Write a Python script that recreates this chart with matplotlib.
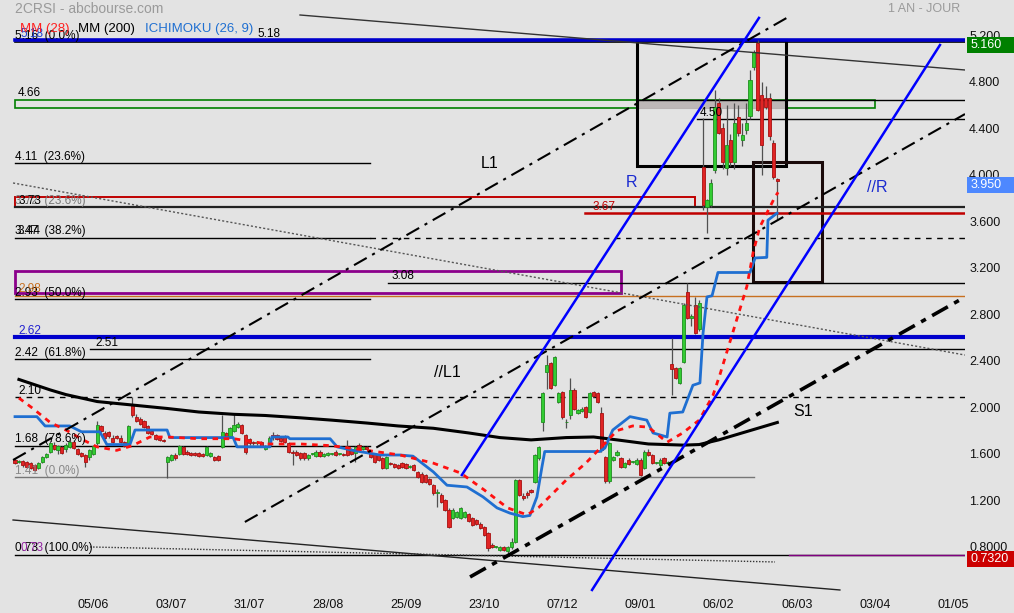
import matplotlib
matplotlib.use("Agg")
import matplotlib.pyplot as plt
from matplotlib.patches import Rectangle
from matplotlib.transforms import blended_transform_factory

plt.rcParams['font.family'] = ['Liberation Sans', 'DejaVu Sans']

# daily candles, x = trading day index (0 = first bar)
opens = [1.55, 1.53, 1.54, 1.53, 1.52, 1.50, 1.48, 1.53, 1.57, 1.62,
         1.68, 1.63, 1.66, 1.64, 1.66, 1.70, 1.64, 1.61, 1.59, 1.57,
         1.60, 1.69, 1.84, 1.78, 1.79, 1.74, 1.75, 1.74, 1.70, 1.69,
         2.02, 1.92, 1.90, 1.88, 1.84, 1.80, 1.76, 1.74, 1.72, 1.53,
         1.55, 1.59, 1.60, 1.66, 1.62, 1.61, 1.61, 1.61, 1.60, 1.59,
         1.58, 1.57, 1.58, 1.66, 1.78, 1.75, 1.80, 1.83, 1.85, 1.76,
         1.73, 1.70, 1.69, 1.70, 1.64, 1.68, 1.76, 1.76, 1.74, 1.75,
         1.69, 1.62, 1.62, 1.61, 1.61, 1.56, 1.60, 1.58, 1.62, 1.58,
         1.59, 1.60, 1.62, 1.60, 1.60, 1.65, 1.64, 1.61, 1.68, 1.64,
         1.66, 1.61, 1.60, 1.59, 1.56, 1.48, 1.52, 1.51, 1.50, 1.52,
         1.51, 1.49, 1.50, 1.44, 1.43, 1.42, 1.38, 1.33, 1.26, 1.25,
         1.20, 1.12, 1.05, 1.06, 1.05, 1.06, 1.08, 1.05, 1.03, 1.00,
         0.97, 0.92, 0.82, 0.80, 0.77, 0.80, 0.76, 0.80, 0.84, 1.375,
         1.24, 1.26, 1.29, 1.36, 1.56, 1.87, 2.30, 2.38, 2.19, 2.05,
         2.13, 1.87, 1.93, 2.15, 1.95, 1.97, 2.00, 1.96, 2.13, 2.12,
         1.95, 1.57, 1.37, 1.55, 1.59, 1.56, 1.49, 1.55, 1.53, 1.51,
         1.55, 1.48, 1.62, 1.59, 1.52, 1.50, 1.56, 1.52, 2.37, 2.34,
         2.21, 2.39, 2.99, 2.77, 2.88, 2.67, 4.07, 3.72, 3.74, 4.04,
         4.62, 4.40, 4.06, 4.30, 4.11, 4.50, 4.30, 4.39, 4.51, 4.93,
         5.13, 4.69, 4.66, 4.66, 4.27, 3.96]
highs = [1.56, 1.55, 1.55, 1.54, 1.53, 1.51, 1.53, 1.58, 1.61, 1.71,
         1.70, 1.68, 1.67, 1.69, 1.72, 1.72, 1.65, 1.62, 1.60, 1.64,
         1.68, 1.88, 1.85, 1.80, 1.80, 1.76, 1.76, 1.76, 1.71, 1.85,
         2.09, 1.94, 1.92, 1.89, 1.85, 1.81, 1.77, 1.75, 1.73, 1.58,
         1.60, 1.61, 1.68, 1.67, 1.63, 1.62, 1.62, 1.62, 1.61, 1.67,
         1.62, 1.58, 1.59, 1.93, 1.79, 1.83, 1.94, 1.87, 1.86, 1.77,
         1.74, 1.71, 1.71, 1.71, 1.68, 1.75, 1.79, 1.77, 1.75, 1.76,
         1.70, 1.63, 1.63, 1.62, 1.62, 1.60, 1.61, 1.63, 1.63, 1.61,
         1.62, 1.61, 1.63, 1.61, 1.61, 1.72, 1.65, 1.67, 1.69, 1.67,
         1.67, 1.62, 1.61, 1.60, 1.57, 1.58, 1.53, 1.52, 1.51, 1.53,
         1.52, 1.50, 1.51, 1.45, 1.44, 1.43, 1.39, 1.34, 1.30, 1.26,
         1.21, 1.13, 1.13, 1.11, 1.14, 1.11, 1.09, 1.06, 1.04, 1.01,
         0.98, 0.93, 0.83, 0.81, 0.81, 0.81, 0.81, 0.88, 1.38, 1.38,
         1.26, 1.28, 1.30, 1.60, 1.67, 2.13, 2.45, 2.39, 2.44, 2.13,
         2.14, 1.90, 2.25, 2.17, 1.99, 2.00, 2.01, 2.13, 2.14, 2.13,
         2.00, 1.58, 1.70, 1.58, 1.63, 1.57, 1.53, 1.56, 1.54, 1.56,
         1.56, 1.63, 1.64, 1.60, 1.53, 1.56, 1.57, 1.54, 2.60, 2.35,
         2.35, 2.90, 3.07, 2.80, 2.95, 2.92, 4.49, 3.79, 3.96, 4.73,
         4.66, 4.45, 4.60, 4.35, 4.62, 4.60, 4.45, 4.62, 4.90, 5.07,
         5.16, 4.80, 4.76, 4.70, 4.30, 3.97]
lows = [1.51, 1.52, 1.49, 1.48, 1.47, 1.45, 1.47, 1.52, 1.56, 1.61,
        1.63, 1.60, 1.60, 1.62, 1.65, 1.64, 1.59, 1.57, 1.49, 1.55,
        1.59, 1.68, 1.79, 1.73, 1.74, 1.69, 1.73, 1.69, 1.66, 1.68,
        1.92, 1.87, 1.85, 1.82, 1.77, 1.76, 1.72, 1.71, 1.70, 1.39,
        1.54, 1.55, 1.59, 1.59, 1.59, 1.58, 1.58, 1.57, 1.57, 1.58,
        1.57, 1.54, 1.54, 1.65, 1.73, 1.74, 1.79, 1.82, 1.77, 1.60,
        1.68, 1.68, 1.68, 1.66, 1.63, 1.67, 1.72, 1.72, 1.70, 1.69,
        1.61, 1.50, 1.58, 1.55, 1.55, 1.55, 1.59, 1.57, 1.57, 1.57,
        1.58, 1.59, 1.58, 1.59, 1.58, 1.58, 1.59, 1.53, 1.63, 1.63,
        1.62, 1.56, 1.52, 1.54, 1.47, 1.47, 1.50, 1.48, 1.47, 1.48,
        1.47, 1.48, 1.45, 1.39, 1.35, 1.35, 1.33, 1.25, 1.14, 1.18,
        1.11, 0.96, 1.04, 1.05, 1.04, 1.05, 1.01, 0.98, 0.99, 0.95,
        0.89, 0.76, 0.79, 0.79, 0.76, 0.76, 0.73, 0.78, 0.83, 1.24,
        1.20, 1.22, 1.26, 1.35, 1.55, 1.80, 2.16, 2.16, 2.18, 2.04,
        1.90, 1.82, 1.90, 1.98, 1.94, 1.96, 1.91, 1.95, 2.09, 2.04,
        1.62, 1.35, 1.35, 1.54, 1.58, 1.48, 1.48, 1.50, 1.52, 1.50,
        1.41, 1.47, 1.58, 1.51, 1.51, 1.49, 1.51, 1.51, 2.11, 2.24,
        2.20, 2.38, 2.76, 2.70, 2.63, 2.66, 3.70, 3.50, 3.72, 4.02,
        4.35, 4.05, 4.00, 4.08, 4.05, 4.33, 4.25, 4.35, 4.48, 4.90,
        4.55, 4.00, 4.57, 4.30, 3.96, 3.62]
closes = [1.52, 1.53, 1.50, 1.49, 1.48, 1.46, 1.52, 1.57, 1.60, 1.69,
          1.64, 1.67, 1.61, 1.68, 1.70, 1.65, 1.60, 1.58, 1.53, 1.63,
          1.67, 1.85, 1.80, 1.74, 1.75, 1.70, 1.74, 1.70, 1.67, 1.84,
          1.93, 1.88, 1.86, 1.83, 1.78, 1.77, 1.73, 1.72, 1.71, 1.57,
          1.59, 1.56, 1.67, 1.60, 1.60, 1.59, 1.59, 1.58, 1.58, 1.66,
          1.61, 1.55, 1.55, 1.79, 1.74, 1.82, 1.85, 1.86, 1.78, 1.62,
          1.69, 1.69, 1.70, 1.67, 1.67, 1.74, 1.75, 1.73, 1.71, 1.70,
          1.62, 1.61, 1.59, 1.56, 1.56, 1.59, 1.60, 1.62, 1.58, 1.60,
          1.61, 1.60, 1.59, 1.60, 1.59, 1.59, 1.60, 1.66, 1.64, 1.66,
          1.64, 1.57, 1.53, 1.55, 1.48, 1.57, 1.51, 1.49, 1.48, 1.49,
          1.48, 1.49, 1.46, 1.40, 1.36, 1.36, 1.34, 1.26, 1.26, 1.19,
          1.12, 0.97, 1.12, 1.10, 1.13, 1.10, 1.02, 0.99, 1.00, 0.96,
          0.90, 0.79, 0.80, 0.80, 0.80, 0.77, 0.80, 0.84, 1.375, 1.25,
          1.22, 1.25, 1.27, 1.59, 1.66, 2.12, 2.36, 2.17, 2.43, 2.12,
          1.92, 1.87, 2.15, 1.99, 1.98, 1.99, 1.92, 2.12, 2.10, 2.05,
          1.63, 1.37, 1.69, 1.57, 1.62, 1.49, 1.52, 1.51, 1.53, 1.55,
          1.42, 1.62, 1.59, 1.52, 1.52, 1.55, 1.52, 1.52, 2.33, 2.25,
          2.34, 2.88, 2.77, 2.79, 2.64, 2.90, 3.74, 3.78, 3.93, 4.58,
          4.36, 4.11, 4.26, 4.11, 4.45, 4.36, 4.34, 4.45, 4.82, 5.06,
          4.56, 4.26, 4.58, 4.33, 3.98, 3.95]

# indicators (bar index, value)
mm200_x = [1, 9, 13, 21, 30, 39, 47, 56, 64, 73, 81, 90, 98, 107, 116,
           124, 132, 141, 148, 154, 162, 171, 175, 180, 185, 195]
mm200_v = [2.24, 2.15, 2.11, 2.05, 2.02, 1.99, 1.96, 1.94, 1.93, 1.91,
           1.89, 1.865, 1.84, 1.82, 1.78, 1.74, 1.72, 1.74, 1.745, 1.72,
           1.685, 1.675, 1.68, 1.72, 1.77, 1.87]
mm28_x = [1, 4.6, 9, 13.3, 17.4, 21, 26, 30, 34.5, 39, 47, 56, 64.5, 73,
          81, 90, 98.5, 107, 114, 120, 126, 131, 134, 141, 146, 150, 154,
          158, 162, 166.8, 170.8, 175, 178.5, 180.3, 187.2, 188.8, 190.5,
          192.3, 194.4, 195.2]
mm28_v = [2.08, 1.99, 1.87, 1.80, 1.72, 1.66, 1.63, 1.67, 1.745, 1.745,
          1.73, 1.73, 1.685, 1.685, 1.67, 1.63, 1.59, 1.52, 1.435, 1.29,
          1.135, 1.075, 1.14, 1.375, 1.52, 1.66, 1.80, 1.84, 1.83, 1.70,
          1.78, 1.89, 2.10, 2.28, 3.04, 3.33, 3.55, 3.67, 3.81, 3.85]
ichi_x = [0, 5.6, 7.7, 14, 17, 21.7, 23.5, 29.4, 30.7, 38.9, 39.6, 55.8,
          56.8, 65.2, 65.7, 69.8, 70.3, 80.6, 82.4, 86.4, 93.4, 98.5, 101.8,
          107, 110.5, 115.6, 119.7, 123.3, 126.6, 129.9, 131.7, 133.5, 134.8,
          135.5, 149.6, 150.9, 152.9, 157.3, 161.6, 163.2, 166.8, 167.5,
          170.8, 173.4, 175.2, 176, 177, 178.3, 179.8, 188, 189.3, 192.3,
          192.6, 194.9]
ichi_v = [1.92, 1.92, 1.84, 1.84, 1.79, 1.79, 1.68, 1.68, 1.805, 1.805,
          1.74, 1.74, 1.66, 1.66, 1.745, 1.745, 1.73, 1.73, 1.66, 1.63,
          1.59, 1.59, 1.58, 1.445, 1.33, 1.315, 1.23, 1.135, 1.09, 1.06,
          1.07, 1.23, 1.49, 1.62, 1.62, 1.65, 1.805, 1.92, 1.89, 1.78,
          1.745, 1.95, 1.96, 2.19, 2.21, 2.64, 2.95, 2.96, 3.16, 3.16,
          3.285, 3.29, 3.61, 3.67]

# drawn trend lines: (x0, v0, x1, v1, color, width, style)
trend_lines = [
    (72.9, 5.375, 243, 4.902, '#333333', 1.0, '-'),
    (-0.5, 3.93, 243, 2.45, '#555555', 1.0, (0, (1.5, 1.5))),
    (-0.5, 1.031, 211, 0.429, '#222222', 1.0, '-'),
    (19.2, 0.799, 194.4, 0.67, '#333333', 1.0, (0, (1, 1.2))),
    (-0.5, 1.547, 197.4, 5.35, 'black', 1.5, (0, (7, 3, 1.5, 3))),
    (58.8, 1.014, 243, 4.523, 'black', 1.5, (0, (7, 3, 1.5, 3))),
    (116.4, 0.541, 243, 2.949, 'black', 2.6, (0, (5, 2, 1.5, 2))),
    (114.3, 1.418, 190.3, 5.35, '#0000ff', 1.8, '-'),
    (147.6, 0.429, 236.6, 5.117, '#0000ff', 1.8, '-'),
]

# horizontal levels: (value, x0, x1, color, width, style)
levels = [
    (5.14, 0, 243, 'black', 1.2, '-'),
    (5.16, 0, 243, '#0000cc', 2.6, '-'),
    (4.645, 159, 243, 'black', 1.0, '-'),
    (4.48, 174.4, 243, 'black', 1.0, '-'),
    (4.10, 0, 90.8, 'black', 1.0, '-'),
    (3.72, 0, 243, '#222222', 1.6, '-'),
    (3.67, 145.8, 243, '#c00000', 1.8, '-'),
    (3.457, 0, 90.8, 'black', 1.0, '-'),
    (3.457, 90.8, 243, 'black', 1.0, (0, (4, 4))),
    (3.07, 95.4, 243, 'black', 1.0, '-'),
    (2.96, 0, 243, '#c87020', 1.0, '-'),
    (2.93, 0, 90.8, 'black', 1.0, '-'),
    (2.605, 0, 243, '#0000cc', 3.0, '-'),
    (2.50, 19.2, 243, 'black', 1.0, '-'),
    (2.413, 0, 90.8, 'black', 1.0, '-'),
    (2.086, 0, 243, 'black', 1.0, (0, (4, 4))),
    (1.668, 0, 90.8, 'black', 1.0, '-'),
    (1.40, 0, 189, '#777777', 1.0, '-'),
    (0.73, 0, 243, 'black', 1.0, '-'),
    (0.732, 198, 243, '#800080', 1.0, '-'),
]

# rectangles: (x0, x1, v_low, v_high, edge, face, width)
zones = [
    (0, 220, 4.575, 4.645, '#008000', 'none', 1.2),
    (159, 197, 4.575, 4.645, '#b8b2b2', '#bdb7b7', 0.8),
    (0, 174, 3.72, 3.81, '#c00000', 'none', 1.4),
    (0, 155, 2.98, 3.17, '#8b008b', 'none', 2.0),
    (159.1, 197.2, 4.076, 5.16, 'black', 'none', 2.2),
    (188.7, 206.4, 3.08, 4.11, '#1a0a0a', 'none', 2.2),
]

# level texts: (text, x, value, color)
level_texts = [
    ('5.16  (0.0%)', 0, 5.14, 'black'),
    ('5.18', 1.3, 5.16, '#2040d0'),
    ('5.18', 62.1, 5.16, 'black'),
    ('4.66', 0.8, 4.645, 'black'),
    ('4.50', 175.2, 4.48, 'black'),
    ('4.11  (23.6%)', 0, 4.10, 'black'),
    ('3.72  (23.6%)', 0, 3.72, '#777777'),
    ('3.73', 1.0, 3.72, 'black'),
    ('3.67', 147.6, 3.67, '#c00000'),
    ('3.47  (38.2%)', 0, 3.457, 'black'),
    ('3.44', 0.7, 3.457, 'black'),
    ('3.08', 96.4, 3.07, 'black'),
    ('2.93  (50.0%)', 0, 2.93, 'black'),
    ('2.98', 0.8, 2.96, '#c87020'),
    ('2.62', 0.8, 2.605, '#2020d0'),
    ('2.51', 20.5, 2.50, 'black'),
    ('2.42  (61.8%)', 0, 2.413, 'black'),
    ('2.10', 0.8, 2.086, 'black'),
    ('1.68  (78.6%)', 0, 1.668, 'black'),
    ('1.41  (0.0%)', 0, 1.40, '#888888'),
    ('0.73  (100.0%)', 0, 0.73, 'black'),
    ('0.73', 1.3, 0.73, '#9020a0'),
]

# channel names: (text, x, value, color)
names = [('L1', 121.5, 4.10, 'black'), ('//L1', 110.5, 2.30, 'black'),
         ('R', 157.8, 3.93, '#1a2ad0'), ('//R', 220.5, 3.89, '#1a2ad0'),
         ('S1', 201.5, 1.96, 'black')]

x_ticks = [20, 40, 60, 80, 100, 120, 140, 160, 180, 200, 220, 240]
x_labels = ['05/06', '03/07', '31/07', '28/08', '25/09', '23/10', '07/12',
            '09/01', '06/02', '06/03', '03/04', '01/05']
y_ticks = [0.8, 1.2, 1.6, 2.0, 2.4, 2.8, 3.2, 3.6, 4.0, 4.4, 4.8, 5.2]
y_labels = ['0.8000', '1.200', '1.600', '2.000', '2.400', '2.800', '3.200',
            '3.600', '4.000', '4.400', '4.800', '5.200']

# price tags on the right: (value, text, colour)
tags = [(5.16, '5.160', '#008000'), (3.95, '3.950', '#4d88ff'),
        (0.732, '0.7320', '#cc0000')]

bg = '#e3e3e3'
fig = plt.figure(figsize=(10.14, 6.13), dpi=100, facecolor=bg)
ax = fig.add_axes([0, 21 / 613, 965 / 1014, 592 / 613], facecolor=bg)
ax.set_xlim(-3.84, 243.0)
ax.set_ylim(0.4116, 5.504)
for s in ax.spines.values():
    s.set_visible(False)

for x0, x1, lo, hi, ec, fc, lw in zones:
    ax.add_patch(Rectangle((x0, lo), x1 - x0, hi - lo, edgecolor=ec,
                           facecolor=fc, lw=lw, zorder=2))

for v, x0, x1, c, lw, ls in levels:
    ax.plot([x0, x1], [v, v], color=c, lw=lw, linestyle=ls, zorder=2)

# candles
idx = list(range(len(closes)))
for i in idx:
    o, h, l, c = opens[i], highs[i], lows[i], closes[i]
    ax.vlines(i, l, h, color='#505050', lw=0.9, zorder=3)
    if c >= o:
        fc, ec = '#33cc33', '#1f8f1f'
    else:
        fc, ec = '#e02424', '#a81010'
    ax.bar(i, max(abs(c - o), 0.008), bottom=min(o, c), width=0.8,
           color=fc, edgecolor=ec, lw=0.6, zorder=3)

ax.plot(mm200_x, mm200_v, color='black', lw=2.2, zorder=4)
ax.plot(ichi_x, ichi_v, color='#1f6fd1', lw=2.0, zorder=4)
ax.plot(mm28_x, mm28_v, color='#ff1010', lw=2.0, linestyle=(0, (2, 2)),
        zorder=4)

for x0, v0, x1, v1, c, lw, ls in trend_lines:
    ax.plot([x0, x1], [v0, v1], color=c, lw=lw, linestyle=ls, zorder=5)

for t, x, v, c in level_texts:
    ax.text(x, v + 0.03, t, color=c, fontsize=8.5, ha='left',
            va='baseline', zorder=6)

for t, x, v, c in names:
    ax.text(x, v, t, color=c, fontsize=11.5, ha='center', va='center',
            zorder=6)

ax.set_xticks(x_ticks)
ax.set_xticklabels(x_labels)
ax.yaxis.tick_right()
ax.set_yticks(y_ticks)
ax.set_yticklabels(y_labels)
ax.tick_params(axis='x', length=0, pad=5, labelsize=9, colors='#111111')
ax.tick_params(axis='y', length=0, pad=3, labelsize=9, colors='#111111')

trans = blended_transform_factory(ax.transAxes, ax.transData)
for v, t, c in tags:
    ax.add_patch(Rectangle((1.002, v - 0.108), 0.05, 0.138, transform=trans,
                           facecolor=c, edgecolor='none', clip_on=False,
                           zorder=7))
    ax.text(1.006, v - 0.039, t, transform=trans, color='white', fontsize=9,
            ha='left', va='center', clip_on=False, zorder=8)

fig.text(15 / 1014, 1 - 9 / 613, '2CRSI - abcbourse.com', color='#9a9a9a',
         fontsize=10, va='center', ha='left')
fig.text(960 / 1014, 1 - 9 / 613, '1 AN - JOUR', color='#9a9a9a',
         fontsize=9, va='center', ha='right')
fig.text(20 / 1014, 1 - 29 / 613, 'MM (28)', color='#ff2020', fontsize=9.5,
         va='center')
fig.text(78 / 1014, 1 - 29 / 613, 'MM (200)', color='black', fontsize=9.5,
         va='center')
fig.text(145 / 1014, 1 - 29 / 613, 'ICHIMOKU (26, 9)', color='#1f6fd1',
         fontsize=9.5, va='center')

fig.savefig('out.png', dpi=100, facecolor=bg)
